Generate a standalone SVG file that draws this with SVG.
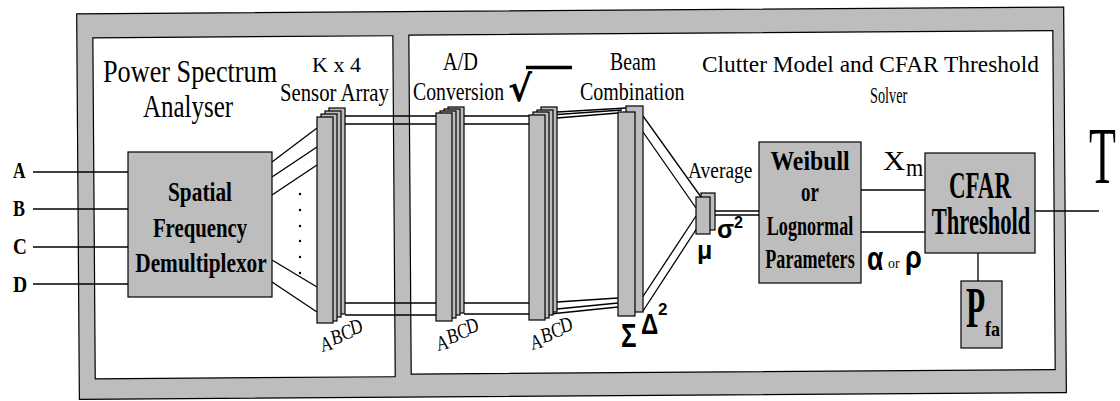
<svg xmlns="http://www.w3.org/2000/svg" width="1120" height="401" viewBox="0 0 1120 401">
<style>
.gr{fill:#bdbdbd;stroke:#000;stroke-width:1.2}
.wp{fill:#fff;stroke:#000;stroke-width:1.2}
.ln{stroke:#000;stroke-width:1.3;fill:none}
.t{font-family:"Liberation Serif","Times New Roman",serif;fill:#000}
.b{font-family:"Liberation Serif","Times New Roman",serif;font-weight:bold;fill:#000}
.s{font-family:"Liberation Sans",Arial,sans-serif;font-weight:bold;fill:#000}
.m{text-anchor:middle}
.abcd{font-family:"Liberation Serif","Times New Roman",serif;font-size:21px;fill:#000}
.dot{fill:#000}
</style>
<g id="frame" transform="rotate(-0.4 570 200)">
<rect x="78" y="10.5" width="987" height="385.5" class="gr"/>
<rect x="94" y="34.5" width="300" height="341" class="wp"/>
<rect x="410" y="34" width="644" height="339" class="wp"/>
</g>
<g id="titles">
<text class="t" font-size="32" transform="translate(103 82) scale(0.82 1)">Power Spectrum</text>
<text class="t" font-size="32" transform="translate(143 117) scale(0.78 1)">Analyser</text>
<text class="t" font-size="22" transform="translate(312 72) scale(1 1)">K x 4</text>
<text class="t" font-size="25" transform="translate(280 101) scale(0.83 1)">Sensor Array</text>
<text class="t" font-size="26" transform="translate(443 70) scale(0.78 1)">A/D</text>
<text class="t" font-size="25" transform="translate(413 100) scale(0.79 1)">Conversion</text>
<text class="t" font-size="26" transform="translate(610 70) scale(0.76 1)">Beam</text>
<text class="t" font-size="25" transform="translate(580 100) scale(0.8 1)">Combination</text>
<text class="t" font-size="22.5" transform="translate(702 72) scale(1.04 1)">Clutter Model and CFAR Threshold</text>
<text class="t" font-size="23" transform="translate(870 103) scale(0.62 1)">Solver</text>
<text class="t" font-size="24" transform="translate(688 178) scale(0.81 1)">Average</text>
</g>
<g id="sqrt">
<text x="508" y="101" font-family="DejaVu Sans,sans-serif" font-weight="bold" font-size="36">√</text>
<line x1="526" y1="67.5" x2="572" y2="67.5" stroke="#000" stroke-width="3.5"/>
</g>
<g id="connectors">
<line class="ln" x1="33" y1="172" x2="128" y2="172"/>
<line class="ln" x1="33" y1="209" x2="128" y2="209"/>
<line class="ln" x1="33" y1="247" x2="128" y2="247"/>
<line class="ln" x1="33" y1="284" x2="128" y2="284"/>
<line class="ln" x1="272" y1="162" x2="317" y2="128"/>
<line class="ln" x1="272" y1="177" x2="317" y2="147"/>
<line class="ln" x1="272" y1="195" x2="317" y2="165"/>
<line class="ln" x1="272" y1="260" x2="317" y2="287"/>
<line class="ln" x1="272" y1="282" x2="317" y2="312"/>
<line class="ln" x1="345" y1="116" x2="436" y2="116"/>
<line class="ln" x1="345" y1="124" x2="436" y2="124"/>
<line class="ln" x1="345" y1="303" x2="436" y2="303"/>
<line class="ln" x1="345" y1="315" x2="436" y2="315"/>
<line class="ln" x1="464" y1="116" x2="529" y2="116"/>
<line class="ln" x1="464" y1="124" x2="529" y2="124"/>
<line class="ln" x1="464" y1="303" x2="529" y2="303"/>
<line class="ln" x1="464" y1="314" x2="529" y2="314"/>
<line class="ln" x1="557" y1="112" x2="626" y2="108"/>
<line class="ln" x1="557" y1="118" x2="618" y2="113"/>
<line class="ln" x1="550" y1="115" x2="622" y2="110"/>
<line class="ln" x1="557" y1="302" x2="618" y2="298"/>
<line class="ln" x1="557" y1="309" x2="618" y2="303"/>
<line class="ln" x1="550" y1="314" x2="618" y2="307"/>
<line class="ln" x1="636" y1="122" x2="696" y2="208"/>
<line class="ln" x1="643" y1="116" x2="701" y2="197"/>
<line class="ln" x1="636" y1="307" x2="696" y2="216"/>
<line class="ln" x1="643" y1="311" x2="701" y2="222"/>
<line class="ln" x1="715" y1="211" x2="759" y2="211"/>
<line class="ln" x1="715" y1="215" x2="759" y2="215"/>
<line class="ln" x1="861" y1="190" x2="925" y2="190"/>
<line class="ln" x1="861" y1="232" x2="925" y2="232"/>
<line class="ln" x1="1035" y1="211" x2="1099" y2="211"/>
<line class="ln" x1="978" y1="253" x2="978" y2="281"/>
</g>
<g id="inputs">
<text class="b" font-size="24" transform="translate(13 178) scale(0.72 1)">A</text>
<text class="b" font-size="24" transform="translate(13 216) scale(0.75 1)">B</text>
<text class="b" font-size="24" transform="translate(13 254) scale(0.8 1)">C</text>
<text class="b" font-size="24" transform="translate(13 292) scale(0.82 1)">D</text>
</g>
<g id="demux">
<rect x="128" y="152" width="144" height="145" class="gr"/>
<text class="b m" font-size="27" transform="translate(200 201) scale(0.79 1)">Spatial</text>
<text class="b m" font-size="27" transform="translate(200 237) scale(0.77 1)">Frequency</text>
<text class="b m" font-size="27" transform="translate(201 272) scale(0.79 1)">Demultiplexor</text>
<circle class="dot" cx="300" cy="194" r="1.2"/>
<circle class="dot" cx="300" cy="210" r="1.2"/>
<circle class="dot" cx="300" cy="226" r="1.2"/>
<circle class="dot" cx="300" cy="241" r="1.2"/>
<circle class="dot" cx="300" cy="257" r="1.2"/>
<circle class="dot" cx="300" cy="273" r="1.2"/>
</g>
<g id="sensor-array">
<rect x="329" y="108" width="16" height="206" class="gr"/>
<rect x="325" y="111" width="16" height="206" class="gr"/>
<rect x="321" y="114" width="16" height="207" class="gr"/>
<rect x="317" y="117" width="16" height="206" class="gr"/>
<text class="abcd" transform="translate(322 352) rotate(-14) scale(0.8 1)">A</text>
<text class="abcd" transform="translate(333 345) rotate(-14) scale(0.8 1)">B</text>
<text class="abcd" transform="translate(343 340) rotate(-14) scale(0.8 1)">C</text>
<text class="abcd" transform="translate(352 335) rotate(-14) scale(0.8 1)">D</text>
</g>
<g id="ad-conversion">
<rect x="448" y="107" width="16" height="206" class="gr"/>
<rect x="444" y="109" width="16" height="206" class="gr"/>
<rect x="440" y="111" width="16" height="207" class="gr"/>
<rect x="436" y="113" width="16" height="208" class="gr"/>
<text class="abcd" transform="translate(438 351) rotate(-14) scale(0.8 1)">A</text>
<text class="abcd" transform="translate(449 344) rotate(-14) scale(0.8 1)">B</text>
<text class="abcd" transform="translate(459 339) rotate(-14) scale(0.8 1)">C</text>
<text class="abcd" transform="translate(468 334) rotate(-14) scale(0.8 1)">D</text>
</g>
<g id="sqrt-stack">
<rect x="541" y="107" width="16" height="205" class="gr"/>
<rect x="537" y="110" width="16" height="205" class="gr"/>
<rect x="533" y="112" width="16" height="206" class="gr"/>
<rect x="529" y="115" width="16" height="205" class="gr"/>
<text class="abcd" transform="translate(532 350) rotate(-14) scale(0.8 1)">A</text>
<text class="abcd" transform="translate(543 343) rotate(-14) scale(0.8 1)">B</text>
<text class="abcd" transform="translate(553 338) rotate(-14) scale(0.8 1)">C</text>
<text class="abcd" transform="translate(562 333) rotate(-14) scale(0.8 1)">D</text>
</g>
<g id="beam-combination">
<rect x="626" y="106" width="17" height="206" class="gr"/>
<rect x="618" y="112" width="17" height="204" class="gr"/>
<text class="s" font-size="34" transform="translate(621 347) scale(0.76 1)">Σ</text>
<text class="s" font-size="29" transform="translate(641 334) scale(0.83 1)">Δ</text>
<text class="s" font-size="17" transform="translate(658 315)">2</text>
</g>
<g id="average">
<rect x="701" y="193" width="14" height="37" class="gr"/>
<rect x="696" y="197" width="14" height="37" class="gr"/>
<text class="s" x="697" y="259" font-size="25">μ</text>
<text class="s" x="717" y="238" font-size="25">σ</text>
<text class="s" x="734" y="228" font-size="16">2</text>
</g>
<g id="weibull">
<rect x="759" y="142" width="102" height="141" class="gr"/>
<text class="b m" font-size="27" transform="translate(810 170) scale(0.88 1)">Weibull</text>
<text class="b m" font-size="27" transform="translate(810 201) scale(0.7 1)">or</text>
<text class="b m" font-size="27" transform="translate(810 235) scale(0.67 1)">Lognormal</text>
<text class="b m" font-size="27" transform="translate(810 268) scale(0.67 1)">Parameters</text>
</g>
<g id="params">
<text class="t" font-size="28" transform="translate(883 170) scale(1.1 1)">X</text>
<text class="t" font-size="26" transform="translate(906 176) scale(0.85 1)">m</text>
<text class="s" font-size="34" transform="translate(867 270) scale(0.78 1)">α</text>
<text class="t" x="888" y="268" font-size="14">or</text>
<text class="s" font-size="32" transform="translate(905 268) scale(0.85 1)">ρ</text>
</g>
<g id="cfar">
<rect x="925" y="153" width="110" height="100" class="gr"/>
<text class="b m" font-size="37" transform="translate(980 198) scale(0.62 1)">CFAR</text>
<text class="b m" font-size="37" transform="translate(981 234) scale(0.61 1)">Threshold</text>
</g>
<g id="pfa">
<rect x="961" y="281" width="41" height="67" class="gr"/>
<text class="b" font-size="56" transform="translate(966 327) scale(0.56 1)">P</text>
<text class="b" font-size="20" transform="translate(985 336) scale(0.9 1)">fa</text>
</g>
<g id="output">
<text class="t" font-size="80" transform="translate(1089 183) scale(0.55 1)">T</text>
</g>
</svg>
